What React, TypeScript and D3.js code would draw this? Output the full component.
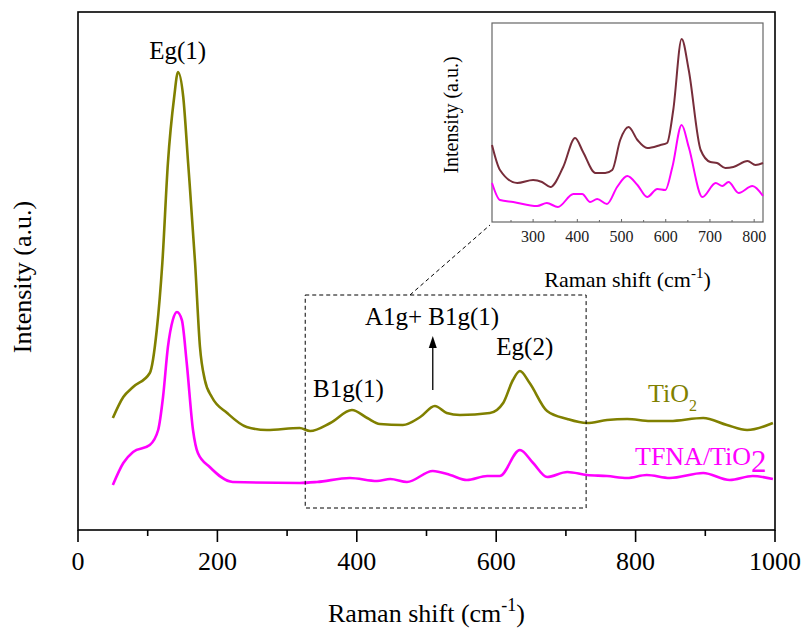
import React from "react";
import * as d3 from "d3";

// ---------- Main chart data (Raman shift in cm^-1, intensity in a.u.) ----------
const tio2Shift = [50, 65, 79, 103, 113, 121, 129, 138, 143.5, 151, 158, 168, 175, 182, 192, 214, 242, 271, 318, 333, 362, 393, 415, 433, 466, 491, 512, 529, 548, 591, 610, 624, 634, 648, 673, 702, 730, 759, 788, 821, 849, 897, 931, 960, 997];
const tio2Int = [112, 133, 143, 157, 200, 267, 367, 433, 458, 433, 367, 267, 183, 150, 133, 117, 103, 100, 102, 99, 107, 120, 112, 106, 105, 113, 124, 117, 115, 117, 127, 150, 159, 147, 119, 111, 107, 110, 111, 109, 109, 112, 105, 100, 107];

const tfnaShift = [50, 65, 79, 103, 115, 122, 129, 136, 142, 149, 156, 165, 172, 189, 222, 318, 343, 390, 429, 448, 472, 509, 534, 558, 587, 605, 634, 653, 673, 702, 730, 759, 788, 816, 849, 897, 935, 968, 997];
const tfnaInt = [45, 67, 78, 85, 100, 133, 183, 210, 218, 210, 167, 100, 77, 63, 48, 47, 48, 52, 49, 51, 48, 59, 55, 50, 54, 54, 80, 67, 53, 58, 55, 54, 52, 55, 52, 57, 50, 54, 51];

const xTicks = [0, 200, 400, 600, 800, 1000];
const xMinorTicks = [100, 300, 500, 700, 900];

// ---------- Inset data ----------
const insetTopShift = [207, 225, 264, 300, 320, 339, 368, 395, 413, 441, 463, 479, 497, 516, 536, 558, 588, 603, 617, 636, 652, 679, 701, 716, 735, 753, 785, 803, 820];
const insetTopInt = [77, 52, 39, 42, 40, 35, 55, 84, 70, 49, 49, 52, 82, 95, 82, 74, 77, 79, 112, 183, 152, 72, 60, 59, 54, 55, 61, 57, 59];

const insetBotShift = [207, 225, 255, 309, 331, 356, 391, 411, 429, 445, 467, 490, 513, 536, 558, 581, 599, 615, 636, 652, 683, 713, 728, 742, 765, 796, 820];
const insetBotInt = [39, 22, 20, 16, 19, 15, 28, 28, 20, 23, 18, 35, 46, 37, 25, 33, 32, 55, 97, 75, 25, 39, 36, 40, 29, 36, 26];

const insetTicks = [300, 400, 500, 600, 700, 800];
const insetMinorTicks = [250, 350, 450, 550, 650, 750];

// Annotated region
const boxShift = [326, 729];
const boxInt = [22, 235];

const FONT = '"Liberation Serif", "Times New Roman", "DejaVu Serif", serif';
const OLIVE = "#808000";
const MAGENTA = "#ff00ff";
const MAROON = "#772d3a";

export default function App() {
  const L = 78, R = 775, T = 12, B = 530;
  const x = d3.scaleLinear().domain([0, 1000]).range([L, R]);
  const y = d3.scaleLinear().domain([0, 518]).range([B, T]);

  const iL = 492, iR = 763, iT = 23, iB = 222;
  const xi = d3.scaleLinear().domain([207, 820]).range([iL, iR]);
  const yi = d3.scaleLinear().domain([0, 199]).range([iB, iT]);

  const mainLine = d3
    .line<[number, number]>()
    .x((d) => x(d[0]))
    .y((d) => y(d[1]))
    .curve(d3.curveMonotoneX);
  const insetLine = d3
    .line<[number, number]>()
    .x((d) => xi(d[0]))
    .y((d) => yi(d[1]))
    .curve(d3.curveMonotoneX);

  const zip = (a: number[], b: number[]) => a.map((v, i) => [v, b[i]] as [number, number]);

  const bx0 = x(boxShift[0]), bx1 = x(boxShift[1]);
  const by0 = y(boxInt[1]), by1 = y(boxInt[0]);
  const ax = x(509);

  return (
    <svg width={803} height={630} style={{ display: "block", position: "absolute", left: 0, top: 0, fontFamily: FONT }}>
      <rect x={0} y={0} width={803} height={630} fill="#fff" />

      <path d={mainLine(zip(tio2Shift, tio2Int)) || ""} fill="none" stroke={OLIVE} strokeWidth={2.6} />
      <path d={mainLine(zip(tfnaShift, tfnaInt)) || ""} fill="none" stroke={MAGENTA} strokeWidth={2.6} />

      <rect x={L} y={T} width={R - L} height={B - T} fill="none" stroke="#000" strokeWidth={1.6} />

      {xTicks.map((t) => (
        <g key={"t" + t}>
          <line x1={x(t)} x2={x(t)} y1={B} y2={B + 12} stroke="#000" strokeWidth={1.6} />
          <text x={x(t)} y={570} fontSize={26} textAnchor="middle" style={{ fontFamily: FONT }}>{t}</text>
        </g>
      ))}
      {xMinorTicks.map((t) => (
        <line key={"m" + t} x1={x(t)} x2={x(t)} y1={B} y2={B + 6} stroke="#000" strokeWidth={1.6} />
      ))}

      <text x={(L + R) / 2} y={622} fontSize={26} textAnchor="middle" style={{ fontFamily: FONT }}>
        Raman shift (cm<tspan dy={-11} fontSize={18}>-1</tspan><tspan dy={11}>)</tspan>
      </text>
      <text transform={`translate(31, 277) rotate(-90)`} fontSize={26} textAnchor="middle" style={{ fontFamily: FONT }}>
        Intensity (a.u.)
      </text>

      <rect x={bx0} y={by0} width={bx1 - bx0} height={by1 - by0} fill="none" stroke="#000" strokeWidth={1} strokeDasharray="4,3" />
      <line x1={410} y1={by0} x2={490} y2={225} stroke="#000" strokeWidth={1} strokeDasharray="4,3" />

      <text x={x(143)} y={59} fontSize={25} textAnchor="middle" style={{ fontFamily: FONT }}>Eg(1)</text>
      <text x={x(388)} y={397} fontSize={25} textAnchor="middle" style={{ fontFamily: FONT }}>B1g(1)</text>
      <text x={x(508)} y={325} fontSize={25} textAnchor="middle" style={{ fontFamily: FONT }}>A1g+ B1g(1)</text>
      <text x={x(641)} y={355} fontSize={25} textAnchor="middle" style={{ fontFamily: FONT }}>Eg(2)</text>
      <line x1={ax} x2={ax} y1={390} y2={346} stroke="#000" strokeWidth={1.3} />
      <path d={`M${ax},336 L${ax - 4},348 L${ax + 4},348 Z`} fill="#000" />

      <text x={648} y={402} fontSize={26} fill={OLIVE} style={{ fontFamily: FONT }}>
        TiO<tspan dy={9} fontSize={16}>2</tspan>
      </text>
      <text x={635} y={465} fontSize={26} fill={MAGENTA} style={{ fontFamily: FONT }}>
        TFNA/TiO<tspan dy={7} fontSize={31}>2</tspan>
      </text>

      <rect x={iL} y={iT} width={iR - iL} height={iB - iT} fill="#fff" stroke="#666" strokeWidth={1.2} />
      <path d={insetLine(zip(insetTopShift, insetTopInt)) || ""} fill="none" stroke={MAROON} strokeWidth={2} />
      <path d={insetLine(zip(insetBotShift, insetBotInt)) || ""} fill="none" stroke={MAGENTA} strokeWidth={2} />
      {insetTicks.map((t) => (
        <g key={"it" + t}>
          <line x1={xi(t)} x2={xi(t)} y1={iB} y2={iB - 3} stroke="#666" strokeWidth={1} />
          <text x={xi(t)} y={242} fontSize={16} textAnchor="middle" fill="#222" style={{ fontFamily: FONT }}>{t}</text>
        </g>
      ))}
      {insetMinorTicks.map((t) => (
        <line key={"im" + t} x1={xi(t)} x2={xi(t)} y1={iB} y2={iB - 2} stroke="#666" strokeWidth={1} />
      ))}
      <text x={(iL + iR) / 2} y={287} fontSize={22} textAnchor="middle" style={{ fontFamily: FONT }}>
        Raman shift (cm<tspan dy={-9} fontSize={15}>-1</tspan><tspan dy={9}>)</tspan>
      </text>
      <text transform={`translate(458, 115) rotate(-90)`} fontSize={20} textAnchor="middle" style={{ fontFamily: FONT }}>
        Intensity (a.u.)
      </text>
    </svg>
  );
}
